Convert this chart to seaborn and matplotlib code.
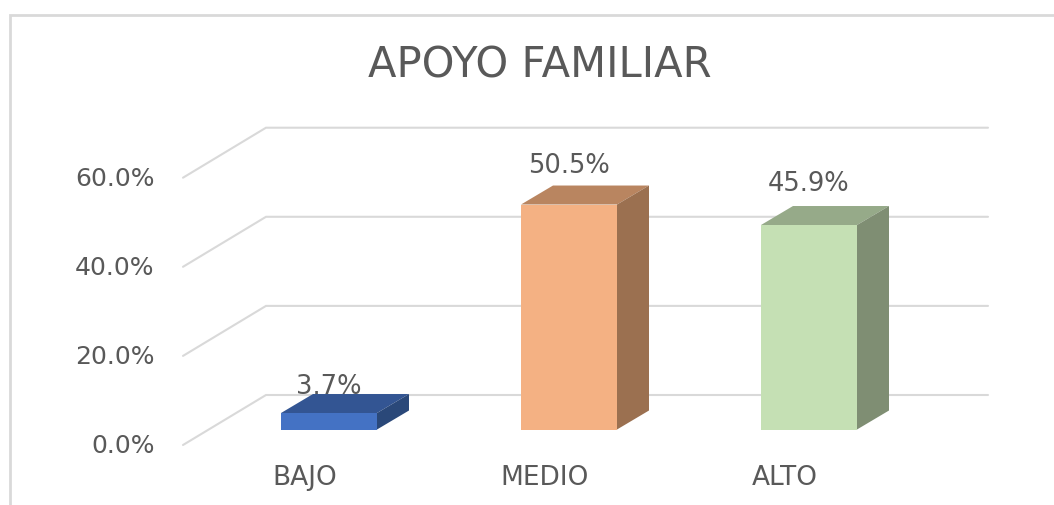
#!/usr/bin/env python3
# -*- coding: utf-8 -*-

import pandas as pd
import matplotlib
matplotlib.use("Agg")
import matplotlib.pyplot as plt
import matplotlib.transforms as mtransforms
from matplotlib.lines import Line2D
from matplotlib.patches import Polygon
import seaborn as sns

CATEGORIES = ["BAJO", "MEDIO", "ALTO"]
VALUES = [3.7, 50.5, 45.9]
VALUE_LABELS = ["3.7%", "50.5%", "45.9%"]
Y_TICKS = [0, 20, 40, 60]
Y_TICK_LABELS = ["0.0%", "20.0%", "40.0%", "60.0%"]
TITLE = "APOYO FAMILIAR"

FRONT_COLORS = ["#4472C4", "#F4B183", "#C5E0B4"]
TOP_COLORS = ["#335593", "#B98560", "#96AA89"]
SIDE_COLORS = ["#2A4879", "#9B7050", "#7F8E73"]
LABEL_LIFT = [14.5, 23.5, 25.5]  # points above the front face

W, H = 1054, 506
DPI = 100
GRID = "#D9D9D9"
TEXT = "#595959"

# pixel layout of the plot area
LEFT, RIGHT, TOP, BOTTOM = 183, 988, 129, 446
ZERO_PX, PX_PER_UNIT = 430.5, 4.455
FIRST_BAR_PX, BAR_STEP_PX = 329, 240

# fake 3d depth, data units
DEPTH_X = 32 / BAR_STEP_PX
DEPTH_Y = 19 / PX_PER_UNIT
WALL_X = (266 - FIRST_BAR_PX) / BAR_STEP_PX
WALL_Y = (ZERO_PX - 396) / PX_PER_UNIT
FLOOR_Y = (ZERO_PX - BOTTOM) / PX_PER_UNIT


def px_shift(fig, dx, dy):
    return mtransforms.ScaledTranslation(dx / DPI, dy / DPI, fig.dpi_scale_trans)


def main():
    sns.set_theme(style="white")
    plt.rcParams["font.family"] = ["DejaVu Sans"]

    fig = plt.figure(figsize=(W / DPI, H / DPI), dpi=DPI)
    ax = fig.add_axes([LEFT / W, 1 - BOTTOM / H, (RIGHT - LEFT) / W, (BOTTOM - TOP) / H])
    ax.patch.set_visible(False)

    df = pd.DataFrame({"nivel": CATEGORIES, "pct": VALUES})
    sns.barplot(data=df, x="nivel", y="pct", hue="nivel", order=CATEGORIES,
                hue_order=CATEGORIES, palette=FRONT_COLORS, saturation=1,
                width=0.4, linewidth=0, legend=False, ax=ax, zorder=4)

    ax.set_xlim((LEFT - FIRST_BAR_PX) / BAR_STEP_PX, (RIGHT - FIRST_BAR_PX) / BAR_STEP_PX)
    ax.set_ylim((ZERO_PX - BOTTOM) / PX_PER_UNIT, (ZERO_PX - TOP) / PX_PER_UNIT)

    # walls: diagonal on the side, then the line across the back
    for tick in Y_TICKS:
        ax.plot([ax.get_xlim()[0], WALL_X, ax.get_xlim()[1]],
                [tick + FLOOR_Y, tick + WALL_Y, tick + WALL_Y],
                color=GRID, lw=1.5, zorder=1, clip_on=False, solid_joinstyle="miter")

    # top and side faces built on the front rectangles
    bars = [c[0] for c in ax.containers]
    for bar, top_c, side_c, label, lift in zip(bars, TOP_COLORS, SIDE_COLORS, VALUE_LABELS, LABEL_LIFT):
        x0, x1 = bar.get_x(), bar.get_x() + bar.get_width()
        y1 = bar.get_height()
        ax.add_patch(Polygon([(x0, y1), (x1, y1), (x1 + DEPTH_X, y1 + DEPTH_Y), (x0 + DEPTH_X, y1 + DEPTH_Y)],
                             closed=True, fc=top_c, ec="none", zorder=3))
        ax.add_patch(Polygon([(x1, 0), (x1, y1), (x1 + DEPTH_X, y1 + DEPTH_Y), (x1 + DEPTH_X, DEPTH_Y)],
                             closed=True, fc=side_c, ec="none", zorder=3))
        # under the faces, the 3.7% gets cut by the top of its bar
        ax.annotate(label, (x0 + bar.get_width() / 2, y1), xytext=(0, lift),
                    textcoords="offset points", ha="center", va="baseline",
                    fontsize=18.5, color=TEXT, zorder=2)

    ax.set_yticks(Y_TICKS, Y_TICK_LABELS)
    ax.set_xticks(range(len(CATEGORIES)), CATEGORIES)
    ax.set_xlabel("")
    ax.set_ylabel("")
    ax.tick_params(axis="y", length=0, pad=20.5, labelsize=18, labelcolor=TEXT)
    ax.tick_params(axis="x", length=0, pad=14, labelsize=19, labelcolor=TEXT)
    for lab in ax.get_yticklabels():
        lab.set_transform(lab.get_transform() + px_shift(fig, 0, -13.5))
    for lab in ax.get_xticklabels():
        lab.set_transform(lab.get_transform() + px_shift(fig, -24, 0))
    sns.despine(ax=ax, left=True, bottom=True)

    fig.text(539.5 / W, 1 - 77.5 / H, TITLE, ha="center", va="baseline", fontsize=30, color=TEXT)

    # chart frame, only top and left are in the crop
    fig.add_artist(Line2D([10 / W, 10 / W, 1], [0, 1 - 16 / H, 1 - 16 / H],
                          transform=fig.transFigure, color=GRID, lw=2, solid_joinstyle="miter"))

    fig.savefig("out.png", dpi=DPI)


if __name__ == "__main__":
    main()
